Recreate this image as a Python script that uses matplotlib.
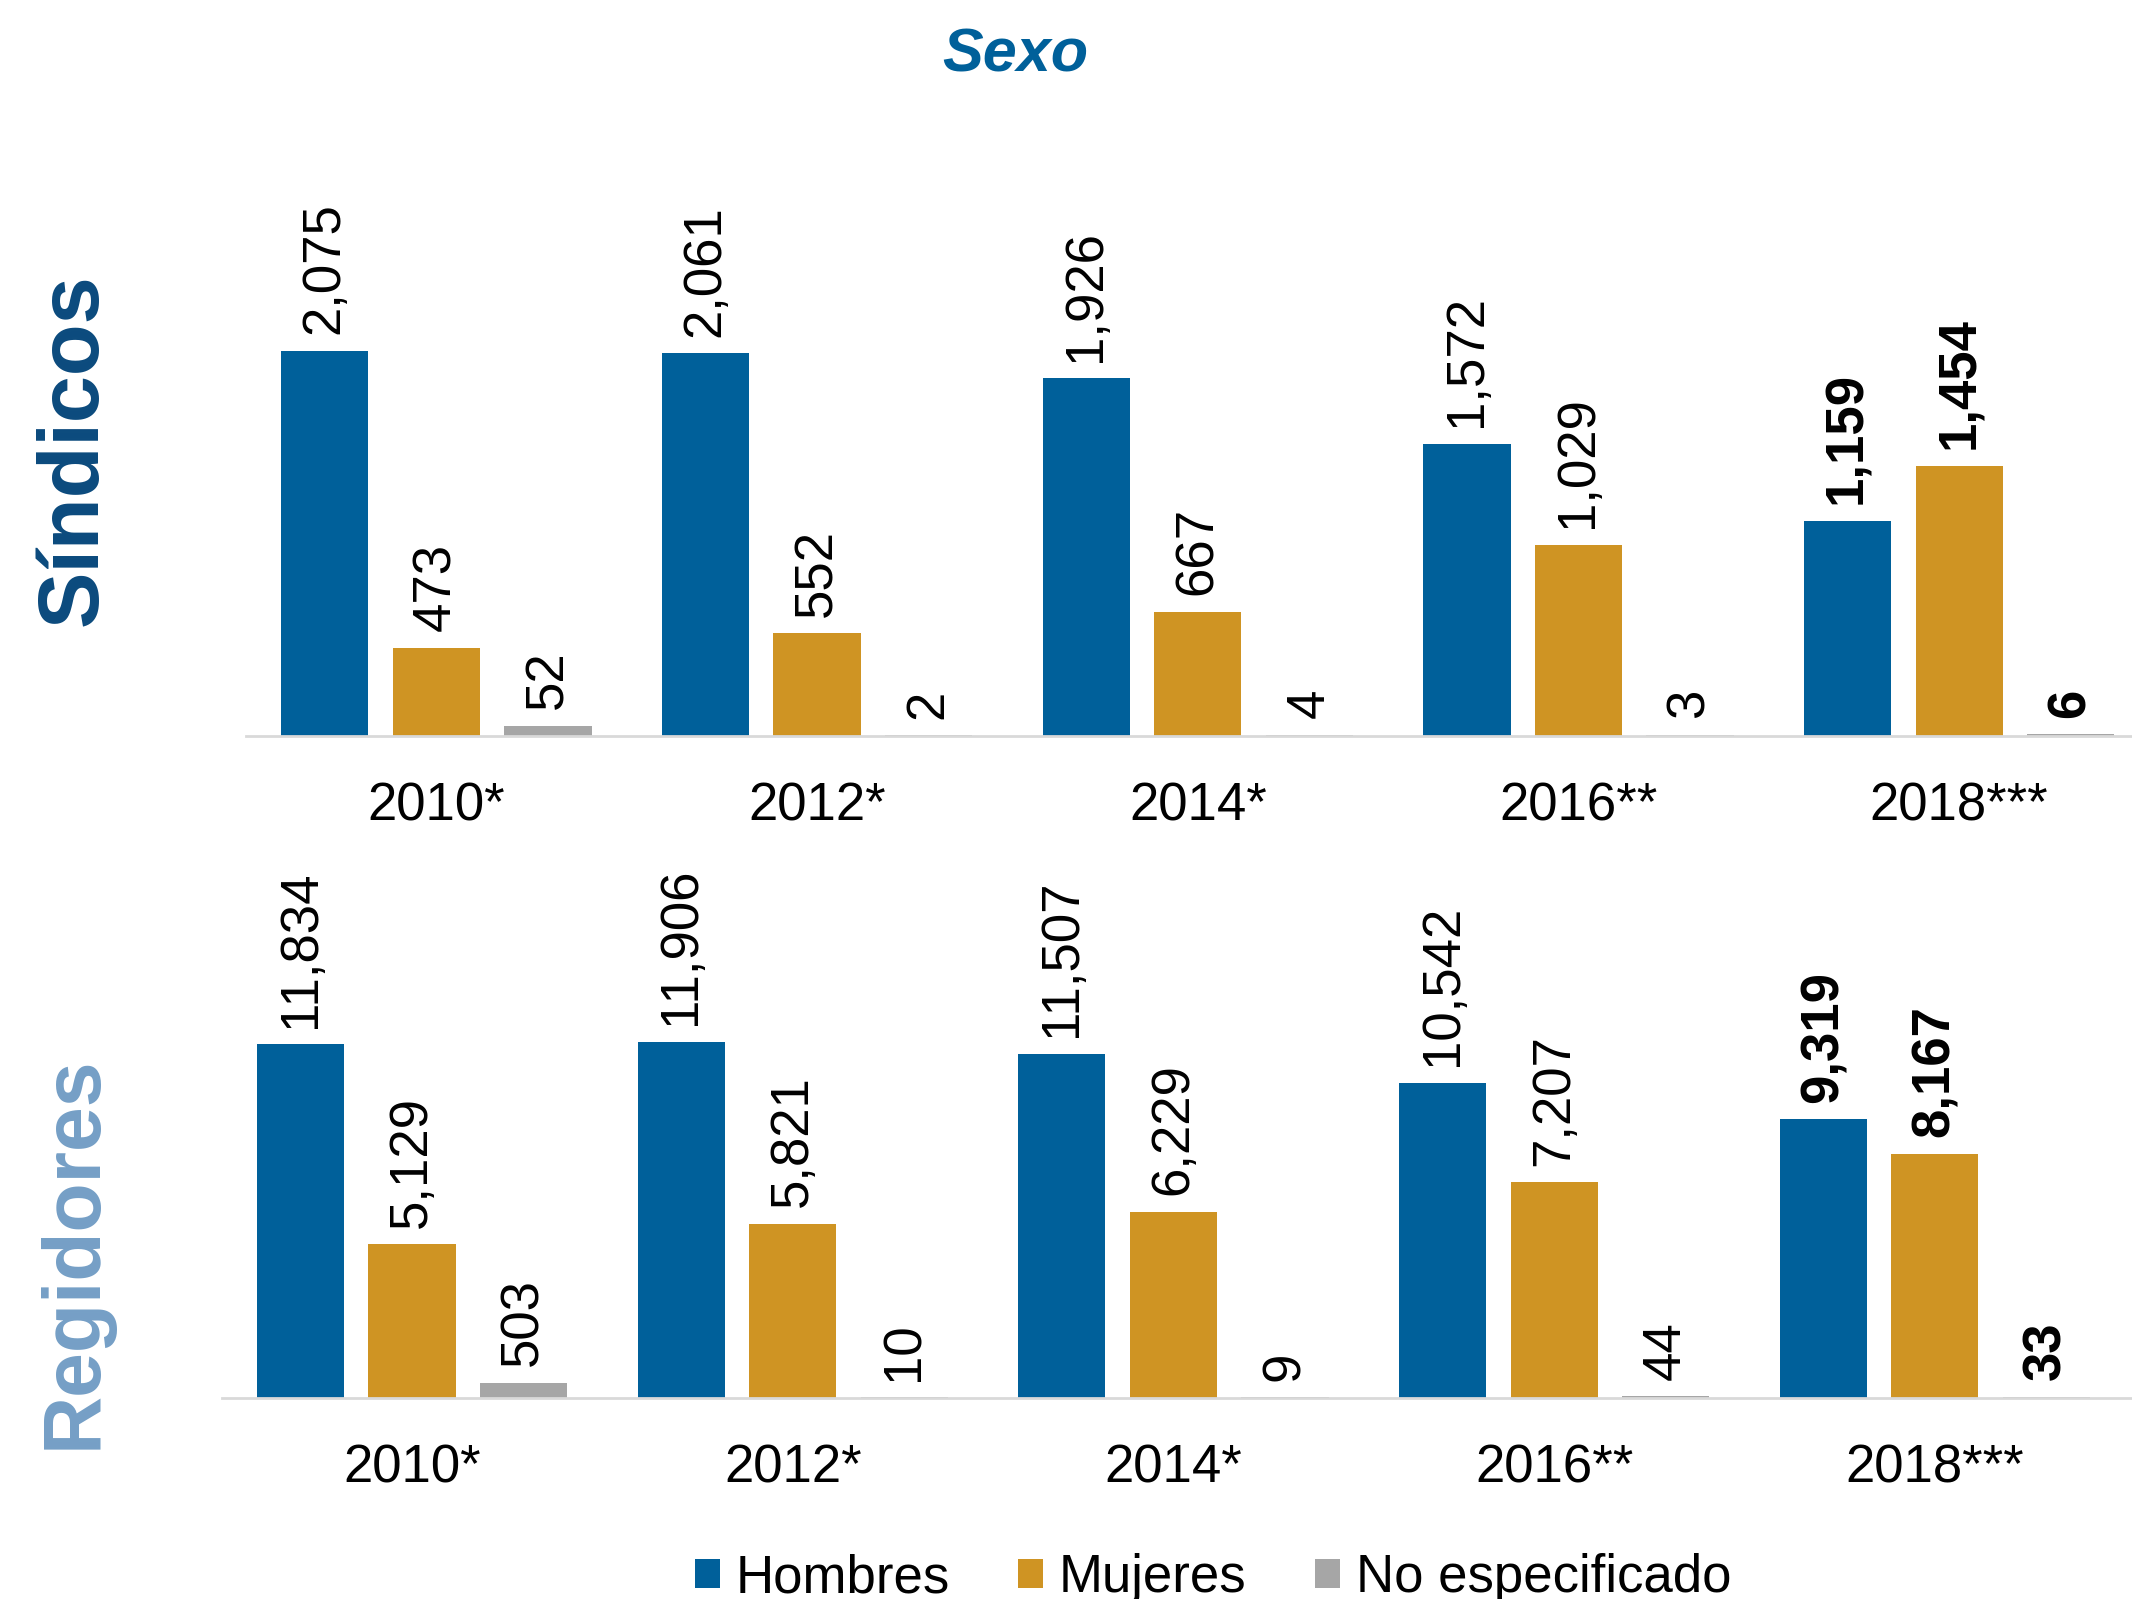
import numpy as np
import matplotlib.pyplot as plt

plt.rcParams['font.family'] = ['Liberation Sans', 'DejaVu Sans']

years = ['2010*', '2012*', '2014*', '2016**', '2018***']
series = ['Hombres', 'Mujeres', 'No especificado']
colors = ['#00609A', '#CF9423', '#A6A6A6']

sindicos_hombres = [2075, 2061, 1926, 1572, 1159]
sindicos_mujeres = [473, 552, 667, 1029, 1454]
sindicos_ne = [52, 2, 4, 3, 6]

regidores_hombres = [11834, 11906, 11507, 10542, 9319]
regidores_mujeres = [5129, 5821, 6229, 7207, 8167]
regidores_ne = [503, 10, 9, 44, 33]

FS = 38
fig = plt.figure(figsize=(21.32, 15.99), dpi=100)


def draw_panel(ax, data, ylim, xmax):
    x = np.arange(len(years))
    offsets = [-0.293, 0.0, 0.293]
    for i, (vals, col) in enumerate(zip(data, colors)):
        bars = ax.bar(x + offsets[i], vals, width=0.229, color=col, label=series[i])
        for j, (b, v) in enumerate(zip(bars, vals)):
            # last year's labels are bold
            weight = 'bold' if j == len(years) - 1 else 'normal'
            ax.annotate(f'{v:,}', (b.get_x() + b.get_width() / 2, v),
                        xytext=(0, 12), textcoords='offset points',
                        rotation=90, ha='center', va='bottom',
                        fontsize=FS, fontweight=weight, color='black')
    ax.set_xlim(-0.5, xmax)
    ax.set_ylim(0, ylim)
    ax.set_xticks(x)
    ax.set_xticklabels(years, fontsize=FS)
    ax.tick_params(axis='x', length=0, pad=33)
    ax.set_yticks([])
    for s in ['top', 'right', 'left']:
        ax.spines[s].set_visible(False)
    ax.spines['bottom'].set_color('#D9D9D9')
    ax.spines['bottom'].set_linewidth(2)
    ax.set_facecolor('none')


ax1 = fig.add_axes([0.1154, 0.540, 0.8846, 0.358])
draw_panel(ax1, [sindicos_hombres, sindicos_mujeres, sindicos_ne], 3087, 4.454)

ax2 = fig.add_axes([0.104, 0.1259, 0.896, 0.3384])
draw_panel(ax2, [regidores_hombres, regidores_mujeres, regidores_ne], 18115, 4.518)

fig.text(0.476, 0.965, 'Sexo', fontsize=44, fontweight='bold', fontstyle='italic',
         color='#00609A', ha='center', va='center')
fig.text(0.035, 0.719, 'Síndicos', fontsize=61, fontweight='bold', rotation=90,
         color='#0B4A7D', ha='center', va='center')
fig.text(0.035, 0.217, 'Regidores', fontsize=58, fontweight='bold', rotation=90,
         color='#759FC6', ha='center', va='center')

handles, labels = ax1.get_legend_handles_labels()
fig.legend(handles, labels, loc='center', bbox_to_anchor=(0.569, 0.013), ncol=3,
           frameon=False, fontsize=FS, handlelength=0.47, handleheight=0.47,
           handletextpad=0.3, columnspacing=1.3)

fig.savefig('out.png', dpi=100)
